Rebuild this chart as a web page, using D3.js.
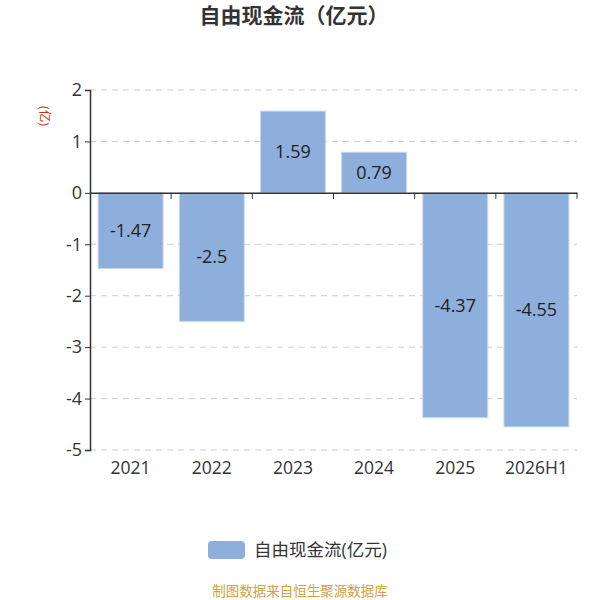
<!DOCTYPE html>
<html lang="zh">
<head>
<meta charset="utf-8">
<script src="https://d3js.org/d3.v7.min.js"></script>
<style>
  body { margin: 0; background: #fff; }
  svg { font-family: "Open Sans", "Noto Sans CJK SC", sans-serif; }
</style>
</head>
<body>
<svg id="chart" width="600" height="600"></svg>
<script>
// chart data
const categories = ['2021', '2022', '2023', '2024', '2025', '2026H1'];
const values = [-1.47, -2.5, 1.59, 0.79, -4.37, -4.55];
const yTicks = [2, 1, 0, -1, -2, -3, -4, -5];
const seriesName = '自由现金流(亿元)';

const svg = d3.select('#chart');
const margin = { left: 90, right: 23, top: 90, bottom: 150 };
const width = 600, height = 600;
const barColor = '#8eaedb';

const x = d3.scaleBand()
  .domain(categories)
  .range([margin.left, width - margin.right])
  .paddingInner(0.2)
  .paddingOuter(0.1);

const y = d3.scaleLinear()
  .domain([-5, 2])
  .range([height - margin.bottom, margin.top]);

// title
svg.append('text')
  .attr('x', 294).attr('y', 16)
  .attr('dy', '0.35em')
  .attr('text-anchor', 'middle')
  .attr('font-size', 21).attr('font-weight', 'bold')
  .attr('fill', '#333')
  .attr('font-family', '"Noto Sans CJK SC", sans-serif')
  .text('自由现金流（亿元）');

// grid lines
svg.append('g').selectAll('line')
  .data(yTicks.filter(d => d !== 0))
  .join('line')
  .attr('x1', margin.left).attr('x2', width - margin.right)
  .attr('y1', d => y(d)).attr('y2', d => y(d))
  .attr('stroke', '#ccc')
  .attr('stroke-dasharray', '6,5');

// bars
svg.append('g').selectAll('rect')
  .data(values)
  .join('rect')
  .attr('x', (d, i) => x(categories[i]))
  .attr('width', x.bandwidth())
  .attr('y', d => y(Math.max(0, d)))
  .attr('height', d => Math.abs(y(d) - y(0)))
  .attr('fill', barColor)
  .attr('stroke', '#c8d8ef')
  .attr('stroke-width', 1);

// value labels
svg.append('g').selectAll('text')
  .data(values)
  .join('text')
  .attr('x', (d, i) => x(categories[i]) + x.bandwidth() / 2)
  .attr('y', d => (y(d) + y(0)) / 2)
  .attr('dy', '0.35em')
  .attr('text-anchor', 'middle')
  .attr('font-size', 18)
  .attr('fill', '#222')
  .text(d => String(d));

// y axis
const yAxis = svg.append('g')
  .attr('transform', `translate(${margin.left},0)`)
  .call(d3.axisLeft(y).tickValues(yTicks).tickSize(5).tickFormat(d => String(d)));
yAxis.select('.domain').attr('stroke', '#333').attr('stroke-width', 1.5);
yAxis.selectAll('.tick line').attr('stroke', '#333');
yAxis.selectAll('.tick text')
  .attr('font-size', 18).attr('fill', '#333')
  .attr('font-family', '"Open Sans", sans-serif');

// x axis along zero line
const xAxis = svg.append('g')
  .attr('transform', `translate(0,${y(0)})`)
  .call(d3.axisBottom(x).tickSize(0).tickFormat(''));
xAxis.select('.domain').attr('stroke', '#333').attr('stroke-width', 1.5);
xAxis.selectAll('.tick').remove();

// boundary ticks on the zero line
const bounds = categories.map(c => x(c) - x.step() * x.paddingInner() / 2);
bounds.push(width - margin.right);
svg.append('g').selectAll('line')
  .data(bounds.slice(1))
  .join('line')
  .attr('x1', d => d).attr('x2', d => d)
  .attr('y1', y(0)).attr('y2', y(0) + 6)
  .attr('stroke', '#333');

// category labels at the bottom
svg.append('g').selectAll('text')
  .data(categories)
  .join('text')
  .attr('x', d => x(d) + x.bandwidth() / 2)
  .attr('y', y(-5) + 18)
  .attr('dy', '0.35em')
  .attr('text-anchor', 'middle')
  .attr('font-size', 17.5)
  .attr('fill', '#333')
  .text(d => d);

// unit label
svg.append('text')
  .attr('transform', `translate(44,116) rotate(90)`)
  .attr('text-anchor', 'middle')
  .attr('dy', '0.35em')
  .attr('font-size', 12.5)
  .attr('fill', '#cc3311')
  .text('(亿)');

// legend
svg.append('rect')
  .attr('x', 208).attr('y', 541)
  .attr('width', 37).attr('height', 18)
  .attr('rx', 4)
  .attr('fill', barColor);
svg.append('text')
  .attr('x', 254).attr('y', 550)
  .attr('dy', '0.35em')
  .attr('font-size', 17.5)
  .attr('fill', '#333')
  .text(seriesName);

// source
svg.append('text')
  .attr('x', 300).attr('y', 591)
  .attr('dy', '0.35em')
  .attr('text-anchor', 'middle')
  .attr('font-size', 13.5)
  .attr('fill', '#d4a040')
  .text('制图数据来自恒生聚源数据库');
</script>
</body>
</html>
